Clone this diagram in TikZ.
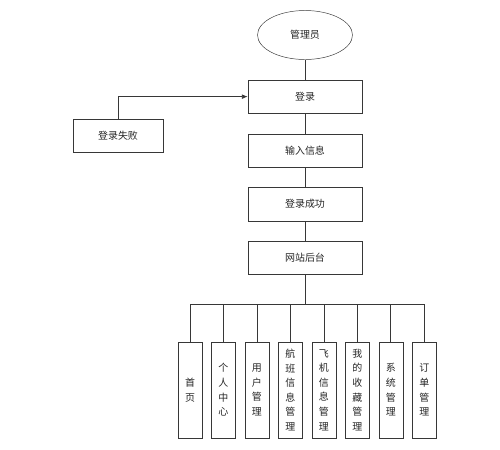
\documentclass[tikz,border=0pt]{standalone}
\usepackage{fontspec}
\newfontfamily\cjk{Noto Sans CJK SC}
\usetikzlibrary{arrows.meta,positioning,shapes.geometric}
\usepackage{xcolor}
\definecolor{linegray}{RGB}{55,55,55}

\begin{document}
\begin{tikzpicture}[
  node distance=0.6cm and 0.27cm,
  every node/.style={font=\cjk\fontsize{8.5}{12.5}\selectfont, align=center, text=black!85},
  box/.style={draw=linegray, fill=white, minimum width=3.42cm, minimum height=1.0cm, inner sep=0pt},
  item/.style={draw=linegray, fill=white, minimum width=0.72cm, minimum height=2.88cm, inner sep=0pt},
  actor/.style={draw=linegray, fill=white, ellipse, minimum width=2.85cm, minimum height=1.47cm},
  link/.style={linegray, semithick},
  arrow/.style={-{Latex[length=5pt,width=4pt]}, linegray, semithick}
]
  \useasboundingbox (0,0) rectangle (15,-13.5);

  % Nodes
  \node (admin) [actor] at (9.15,-1.05) {管理员};
  \node (login) [box, below=0.6cm of admin] {登录};
  \node (input) [box, below=0.6cm of login] {输入信息};
  \node (ok) [box, below=0.6cm of input] {登录成功};
  \node (portal) [box, below=0.6cm of ok] {网站后台};
  \node (fail) [box, minimum width=2.7cm] at (3.54,-4.08) {登录失败};
  \coordinate (bus) at (9.18,-9.12);

  \node (m1) [item] at (5.7,-11.7) {首\\页};
  \node (m2) [item, right=of m1] {个\\人\\中\\心};
  \node (m3) [item, right=of m2] {用\\户\\管\\理};
  \node (m4) [item, right=of m3] {航\\班\\信\\息\\管\\理};
  \node (m5) [item, right=of m4] {飞\\机\\信\\息\\管\\理};
  \node (m6) [item, right=of m5] {我\\的\\收\\藏\\管\\理};
  \node (m7) [item, right=of m6] {系\\统\\管\\理};
  \node (m8) [item, right=of m7] {订\\单\\管\\理};

  % Paths
  \draw [link] (admin) -- (login);
  \draw [link] (login) -- (input);
  \draw [link] (input) -- (ok);
  \draw [link] (ok) -- (portal);
  \draw [arrow] (fail.north) |- (login.west);
  \draw [link, thick] (portal.south) -- (portal.south |- bus);
  \draw [link] (m1.north |- bus) -- (m8.north |- bus);
  \foreach \i in {1,...,8}
    \draw [link] (m\i.north |- bus) -- (m\i.north);
\end{tikzpicture}
\end{document}
